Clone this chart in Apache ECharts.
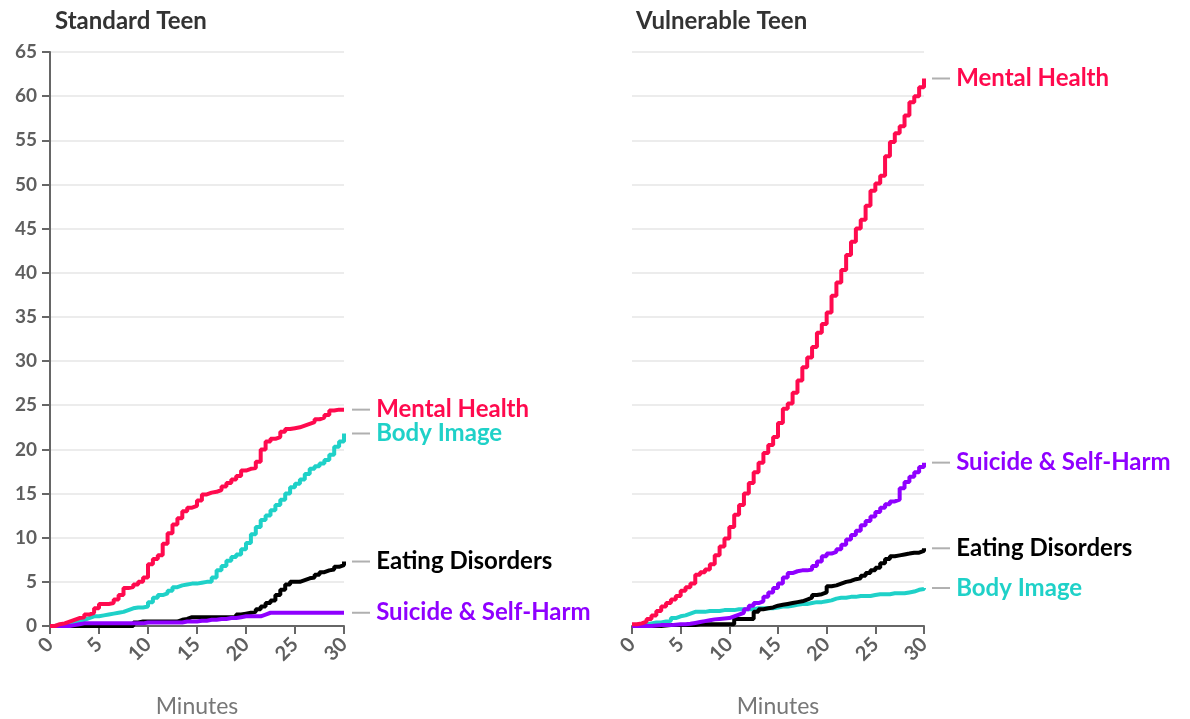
<!DOCTYPE html>
<html>
<head>
<meta charset="utf-8">
<script src="https://cdn.jsdelivr.net/npm/echarts@6/dist/echarts.min.js"></script>
<style>
  html, body { margin: 0; padding: 0; background: #fff; }
  #chart { width: 1190px; height: 719px; }
</style>
</head>
<body>
<div id="chart"></div>
<script>
// minutes sampled every half minute
var minutes = [0, 0.5, 1, 1.5, 2, 2.5, 3, 3.5, 4, 4.5, 5, 5.5, 6, 6.5, 7, 7.5, 8, 8.5, 9, 9.5,
  10, 10.5, 11, 11.5, 12, 12.5, 13, 13.5, 14, 14.5, 15, 15.5, 16, 16.5, 17, 17.5, 18, 18.5, 19, 19.5,
  20, 20.5, 21, 21.5, 22, 22.5, 23, 23.5, 24, 24.5, 25, 25.5, 26, 26.5, 27, 27.5, 28, 28.5, 29, 29.5, 30];

var panelTitles = ['Standard Teen', 'Vulnerable Teen'];
var topicNames = ['Body Image', 'Eating Disorders', 'Suicide & Self-Harm', 'Mental Health'];
var topicColors = ['#1fd1c8', '#000000', '#8f00ff', '#ff0a4e'];

// Standard Teen
var stdBody = [0, 0.1, 0.2, 0.3, 0.4, 0.5, 0.7, 0.9, 1.1, 1.1, 1.2, 1.3, 1.4, 1.5, 1.6, 1.8, 2.0, 2.1, 2.1, 2.2,
  2.7, 3.2, 3.5, 3.7, 4.0, 4.4, 4.6, 4.7, 4.8, 4.8, 4.9, 5.0, 5.0, 5.5, 6.3, 6.8, 7.4, 7.8, 8.1, 8.7,
  9.4, 10.4, 11.2, 12.0, 12.5, 13.1, 13.7, 14.3, 15.0, 15.7, 16.1, 16.6, 17.2, 17.8, 18.1, 18.4, 18.8, 19.4, 20.3, 20.9, 21.8];
var stdEating = [0, 0, 0, 0, 0, 0, 0, 0, 0, 0, 0, 0, 0, 0, 0, 0, 0, 0.4, 0.5, 0.5,
  0.5, 0.5, 0.5, 0.5, 0.5, 0.5, 0.7, 0.8, 1.0, 1.0, 1.0, 1.0, 1.0, 1.0, 1.0, 1.0, 1.0, 1.0, 1.3, 1.4,
  1.5, 1.6, 1.9, 2.2, 2.6, 2.9, 3.5, 4.1, 4.7, 5.0, 5.0, 5.2, 5.4, 5.5, 5.8, 6.1, 6.3, 6.4, 6.7, 6.9, 7.3];
var stdSuicide = [0, 0, 0, 0, 0.1, 0.2, 0.3, 0.3, 0.3, 0.3, 0.3, 0.3, 0.3, 0.3, 0.3, 0.3, 0.3, 0.3, 0.3, 0.4,
  0.4, 0.4, 0.4, 0.4, 0.4, 0.4, 0.4, 0.5, 0.5, 0.5, 0.6, 0.6, 0.7, 0.7, 0.8, 0.8, 0.9, 0.9, 1.0, 1.1,
  1.1, 1.1, 1.1, 1.3, 1.5, 1.5, 1.5, 1.5, 1.5, 1.5, 1.5, 1.5, 1.5, 1.5, 1.5, 1.5, 1.5, 1.5, 1.5, 1.5, 1.5];
var stdMental = [0, 0.2, 0.3, 0.5, 0.7, 0.9, 1.0, 1.3, 1.5, 2.0, 2.5, 2.5, 2.6, 3.0, 3.5, 4.3, 4.4, 4.7, 5.0, 5.5,
  7.0, 7.6, 8.0, 9.3, 10.5, 11.5, 12.2, 13.0, 13.4, 13.6, 14.2, 14.9, 15.1, 15.2, 15.4, 15.8, 16.2, 16.6, 17.0, 17.6,
  17.8, 17.9, 18.6, 20.0, 20.9, 21.2, 21.4, 22.0, 22.3, 22.4, 22.5, 22.7, 22.9, 23.1, 23.4, 23.6, 23.9, 24.4, 24.5, 24.5, 24.5];

// Vulnerable Teen
var vulBody = [0, 0.1, 0.2, 0.3, 0.4, 0.4, 0.5, 0.6, 0.9, 1.1, 1.2, 1.4, 1.6, 1.6, 1.6, 1.7, 1.7, 1.7, 1.8, 1.8,
  1.8, 1.9, 1.9, 1.9, 1.9, 2.0, 2.0, 2.0, 2.0, 2.1, 2.2, 2.2, 2.3, 2.4, 2.5, 2.5, 2.6, 2.7, 2.7, 2.8,
  2.9, 3.1, 3.2, 3.2, 3.3, 3.3, 3.4, 3.4, 3.4, 3.5, 3.6, 3.6, 3.6, 3.7, 3.7, 3.7, 3.8, 3.9, 4.1, 4.2, 4.3];
var vulEating = [0, 0, 0, 0, 0, 0, 0.05, 0.1, 0.1, 0.1, 0.1, 0.1, 0.1, 0.2, 0.2, 0.2, 0.2, 0.2, 0.2, 0.2,
  0.2, 0.8, 0.8, 0.8, 0.8, 1.6, 1.9, 2.0, 2.1, 2.3, 2.4, 2.5, 2.6, 2.7, 2.8, 3.0, 3.2, 3.5, 3.6, 3.8,
  4.5, 4.6, 4.8, 5.0, 5.1, 5.3, 5.4, 5.7, 6.0, 6.3, 6.6, 7.1, 7.6, 7.9, 8.0, 8.1, 8.2, 8.3, 8.3, 8.5, 8.8];
var vulSuicide = [0, 0, 0, 0, 0.05, 0.1, 0.1, 0.1, 0.15, 0.2, 0.2, 0.25, 0.35, 0.45, 0.55, 0.65, 0.75, 0.8, 0.85, 0.9,
  1.1, 1.3, 1.5, 1.9, 2.3, 2.6, 2.8, 3.3, 3.8, 4.3, 4.8, 5.5, 6.0, 6.2, 6.3, 6.3, 6.4, 6.8, 7.3, 7.9,
  8.2, 8.4, 8.7, 9.2, 9.8, 10.3, 10.8, 11.4, 11.9, 12.4, 12.9, 13.4, 13.8, 14.1, 14.3, 15.6, 16.3, 16.9, 17.4, 18.0, 18.5];
var vulMental = [0.2, 0.3, 0.5, 0.8, 1.2, 1.7, 2.2, 2.6, 3.0, 3.4, 4.0, 4.4, 4.8, 5.8, 6.1, 6.4, 7.0, 8.0, 9.0, 9.9,
  11.2, 12.6, 13.7, 15.0, 16.2, 17.4, 18.5, 19.6, 20.5, 21.4, 23.0, 24.6, 25.2, 26.4, 27.8, 29.3, 30.4, 31.6, 33.2, 34.2,
  35.5, 37.4, 38.9, 40.3, 42.0, 43.5, 45.0, 46.0, 47.6, 49.3, 50.1, 51.0, 53.2, 54.8, 55.8, 56.6, 57.8, 59.3, 60.0, 61.0, 62.0];

var yTicks = [0, 5, 10, 15, 20, 25, 30, 35, 40, 45, 50, 55, 60, 65];
var xTicks = [0, 5, 10, 15, 20, 25, 30];

var panelData = [
  [stdBody, stdEating, stdSuicide, stdMental],
  [vulBody, vulEating, vulSuicide, vulMental]
];

var FONT = 'Lato, "Open Sans", sans-serif';
var chart = echarts.init(document.getElementById('chart'));

function makeSeries(panel) {
  return panelData[panel].map(function (vals, k) {
    var color = topicColors[k];
    return {
      type: 'line',
      name: topicNames[k],
      xAxisIndex: panel,
      yAxisIndex: panel,
      step: 'end',
      symbol: 'none',
      lineStyle: { color: color, width: 4 },
      itemStyle: { color: color },
      data: minutes.map(function (m, i) { return [m, vals[i]]; }),
      endLabel: {
        show: true,
        distance: 8,
        formatter: '{ln|}  {nm|' + topicNames[k] + '}',
        rich: {
          ln: { width: 18, height: 2, backgroundColor: '#b0b0b0' },
          nm: { color: color, fontSize: 24, fontWeight: 'bold', fontFamily: FONT }
        }
      }
    };
  });
}

function xAxisCfg(panel) {
  return {
    type: 'value',
    gridIndex: panel,
    min: xTicks[0],
    max: xTicks[xTicks.length - 1],
    interval: 5,
    name: 'Minutes',
    nameLocation: 'middle',
    nameGap: 69,
    nameMoveOverlap: false,
    nameTextStyle: { color: '#777', fontSize: 23, fontFamily: FONT },
    axisLine: { lineStyle: { color: '#666', width: 2 } },
    axisTick: { show: true, length: 8, lineStyle: { color: '#666', width: 2 } },
    axisLabel: { rotate: 45, margin: 15, color: '#5f5f5f', fontSize: 20, fontWeight: 'bold', fontFamily: FONT },
    splitLine: { show: false }
  };
}

function yAxisCfg(panel) {
  var first = panel === 0;
  return {
    type: 'value',
    gridIndex: panel,
    min: yTicks[0],
    max: yTicks[yTicks.length - 1],
    interval: 5,
    axisLine: { show: first, lineStyle: { color: '#666', width: 2 } },
    axisTick: { show: first, length: 8, lineStyle: { color: '#666', width: 2 } },
    axisLabel: { show: first, margin: 13, color: '#5f5f5f', fontSize: 19, fontWeight: 'bold', fontFamily: FONT },
    splitLine: { show: true, lineStyle: { color: '#ececec', width: 2 } }
  };
}

var option = {
  animation: false,
  backgroundColor: '#fff',
  textStyle: { fontFamily: FONT },
  title: [
    { text: panelTitles[0], left: 50, top: 4, textStyle: { color: '#333', fontSize: 24, fontWeight: 'bold', fontFamily: FONT } },
    { text: panelTitles[1], left: 631, top: 4, textStyle: { color: '#333', fontSize: 24, fontWeight: 'bold', fontFamily: FONT } }
  ],
  grid: [
    { left: 50, top: 52, width: 294, height: 574, outerBoundsMode: 'none' },
    { left: 632, top: 52, width: 292, height: 574, outerBoundsMode: 'none' }
  ],
  xAxis: [xAxisCfg(0), xAxisCfg(1)],
  yAxis: [yAxisCfg(0), yAxisCfg(1)],
  series: makeSeries(0).concat(makeSeries(1))
};

chart.setOption(option);
</script>
</body>
</html>
